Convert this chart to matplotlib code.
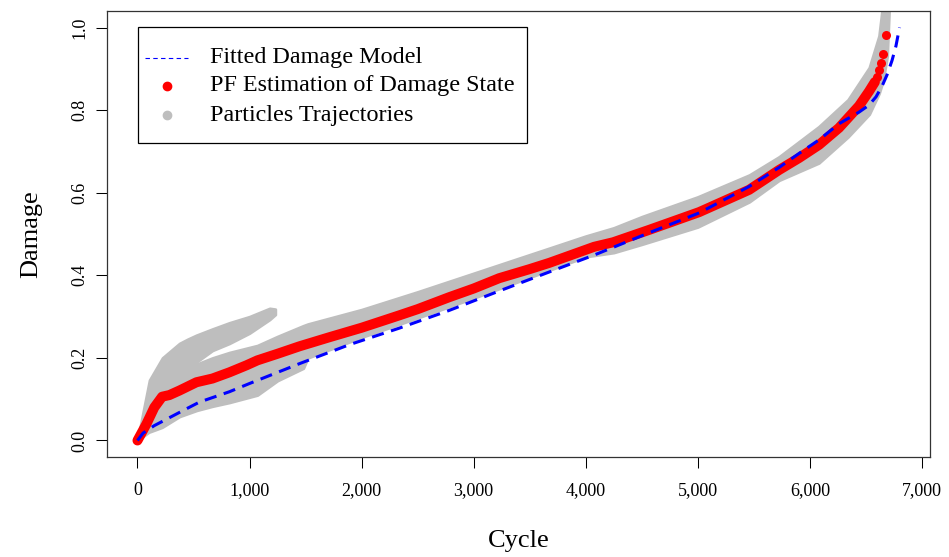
import matplotlib.pyplot as plt
from matplotlib.patches import Rectangle

plt.rcParams['font.family'] = ['Liberation Serif', 'DejaVu Serif']

# fitted damage model (blue dashed curve)
fit_cycle = [0, 50, 150, 375, 553, 820, 1000, 1445, 1891, 2336, 2782, 3228, 3674, 4075,
             4566, 5012, 5458, 5725, 5903, 6082, 6260, 6438, 6527, 6590, 6644, 6688, 6733,
             6768, 6800]
fit_damage = [0, 0.018, 0.036, 0.068, 0.093, 0.118, 0.138, 0.186, 0.232, 0.272, 0.315,
              0.362, 0.408, 0.449, 0.503, 0.551, 0.615, 0.661, 0.695, 0.728, 0.767, 0.795,
              0.812, 0.832, 0.858, 0.885, 0.92, 0.955, 1.0]

# PF estimate: dense part looks like a thick trace, the tail are single dots
pf_cycle = [0, 40, 80, 150, 220, 285, 375, 526, 669, 820, 972, 1070, 1250, 1445, 1712,
            2000, 2336, 2500, 2782, 3000, 3228, 3500, 3674, 4075, 4245, 4566, 5012, 5458,
            5725, 5903, 6082, 6260, 6438, 6527, 6580]
pf_damage = [0, 0.02, 0.04, 0.08, 0.106, 0.11, 0.121, 0.141, 0.15, 0.165, 0.182, 0.194,
             0.21, 0.228, 0.25, 0.273, 0.303, 0.318, 0.347, 0.368, 0.393, 0.415, 0.43,
             0.469, 0.48, 0.51, 0.553, 0.607, 0.655, 0.684, 0.716, 0.757, 0.81, 0.845, 0.868]
pf_tail_cycle = [6600, 6617, 6634, 6652, 6679]
pf_tail_damage = [0.881, 0.898, 0.915, 0.937, 0.983]

# particle cloud, main band envelope
band_cycle = [0, 100, 220, 375, 530, 670, 820, 1070, 1250, 1480, 1520, 2000, 2500, 3000,
              3500, 4000, 4250, 4500, 5000, 5460, 5725, 6080, 6340, 6530, 6617, 6652, 6690,
              6710]
band_low = [0, 0.02, 0.032, 0.058, 0.073, 0.083, 0.092, 0.11, 0.145, 0.175, 0.2, 0.25,
            0.297, 0.345, 0.395, 0.445, 0.455, 0.475, 0.517, 0.578, 0.63, 0.672, 0.735, 0.79,
            0.84, 0.87, 0.93, 1.06]
band_high = [0, 0.06, 0.14, 0.165, 0.185, 0.2, 0.213, 0.23, 0.252, 0.278, 0.282, 0.317,
             0.36, 0.405, 0.45, 0.495, 0.515, 0.542, 0.59, 0.643, 0.687, 0.76, 0.825, 0.903,
             0.98, 1.06, 1.06, 1.06]

# early particles that run off above the main band
branch_cycle = [0, 107, 223, 375, 446, 526, 669, 820, 1000, 1180, 1230]
branch_low = [0, 0.03, 0.08, 0.14, 0.17, 0.19, 0.218, 0.235, 0.26, 0.293, 0.305]
branch_high = [0, 0.146, 0.2, 0.235, 0.245, 0.255, 0.27, 0.285, 0.30, 0.32, 0.318]

xticks = [0, 1000, 2000, 3000, 4000, 5000, 6000, 7000]
yticks = [0.0, 0.2, 0.4, 0.6, 0.8, 1.0]

gray = '#BEBEBE'

fig = plt.figure(figsize=(9.49, 5.57), dpi=100)
ax = fig.add_axes([107/949, 1 - 457/557, 823/949, 446/557])

ax.fill_between(band_cycle, band_low, band_high, color=gray, lw=2, edgecolor=gray, zorder=1)
ax.fill_between(branch_cycle, branch_low, branch_high, color=gray, lw=2, edgecolor=gray, zorder=1)

ax.plot(pf_cycle, pf_damage, color='red', lw=7.2, solid_capstyle='round',
        solid_joinstyle='round', zorder=2)
ax.plot(pf_tail_cycle, pf_tail_damage, 'o', color='red', ms=6.5, mec='none', zorder=2)

ax.plot(fit_cycle, fit_damage, color='blue', lw=2.2, ls=(0, (4, 2.5)), zorder=3)

ax.set_xlim(-272, 7072)
ax.set_ylim(-0.04, 1.04)

ax.set_xticks(xticks)
ax.set_xticklabels([f"{v:,}" for v in xticks], fontsize=13)
ax.set_yticks(yticks)
ax.set_yticklabels([f"{v:.1f}" for v in yticks], fontsize=13, rotation=90, va='center')
ax.tick_params(axis='x', direction='out', length=8, width=0.75, pad=10)
ax.tick_params(axis='y', direction='out', length=8, width=0.75, pad=5.5)
for s in ax.spines.values():
    s.set_linewidth(0.9)
    s.set_color('#333333')

ax.set_xlabel("Cycle", fontsize=19, labelpad=22)
ax.set_ylabel("Damage", fontsize=19, labelpad=21)


# legend drawn by hand, R style box (pixel positions -> axes fraction)
def px(x, y):
    return (x - 107) / 823, (457 - y) / 446


labels = ["Fitted Damage Model", "PF Estimation of Damage State", "Particles Trajectories"]
rows = [58, 86, 115]
x0, y0 = px(138, 143)
x1, y1 = px(527, 27)
ax.add_patch(Rectangle((x0, y0), x1 - x0, y1 - y0, transform=ax.transAxes,
                       facecolor='white', edgecolor='black', lw=0.9, zorder=5))
la, lb = px(145, rows[0])[0], px(188, rows[0])[0]
ax.plot([la, lb], [px(0, rows[0])[1]] * 2, transform=ax.transAxes, color='blue',
        lw=0.8, ls=(0, (4, 3)), zorder=6)
ax.plot(*px(167, rows[1]), 'o', transform=ax.transAxes, color='red', ms=6, zorder=6)
ax.plot(*px(167, rows[2]), 'o', transform=ax.transAxes, color=gray, ms=6, zorder=6)
for lab, r in zip(labels, rows):
    ax.text(*px(210, r), lab, transform=ax.transAxes, fontsize=17.4,
            va='center', ha='left', zorder=6)

fig.savefig("out.png", dpi=100)
